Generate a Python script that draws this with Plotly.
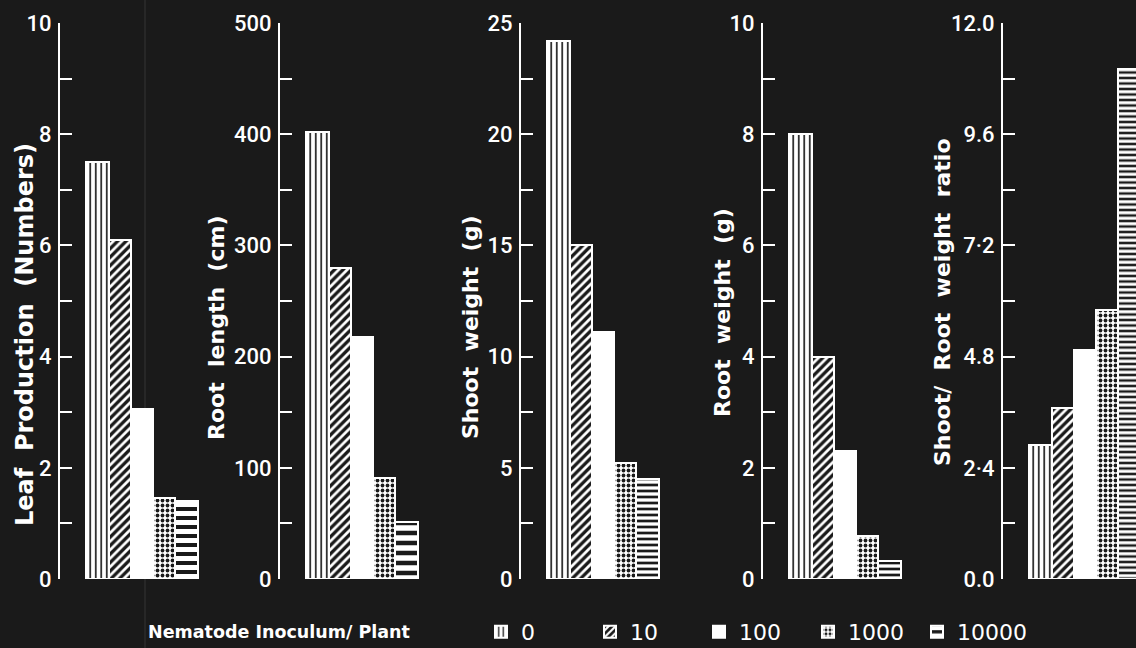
import plotly.graph_objects as go

# ---- data ----
categories = ["0", "10", "100", "1000", "10000"]
leaf_production = [7.5, 6.1, 3.05, 1.45, 1.4]
root_length = [402, 280, 218, 91, 51]
shoot_weight = [24.2, 15.0, 11.1, 5.2, 4.5]
root_weight = [8.0, 4.0, 2.3, 0.78, 0.33]
shoot_root_ratio = [2.9, 3.7, 4.95, 5.8, 11.0]

panel_titles = ["Leaf\u00a0 Production\u00a0 (Numbers)", "Root\u00a0 length\u00a0 (cm)",
                "Shoot\u00a0 weight\u00a0 (g)", "Root\u00a0 weight\u00a0 (g)",
                "Shoot/\u00a0 Root\u00a0 weight\u00a0 ratio"]
legend_heading = "Nematode Inoculum/ Plant"
panel_values = [leaf_production, root_length, shoot_weight, root_weight, shoot_root_ratio]
y_max = [10, 500, 25, 10, 12.0]
y_major = [2, 100, 5, 2, 2.4]
y_minor = [1, 50, 2.5, 1, 1.2]
ratio_ticktext = ["0.0", "2\u00b74", "4.8", "7\u00b72", "9.6", "12.0"]

# ---- styling ----
W, H = 1136, 648
BG = "#1a1a1a"
axis_px = [60, 280, 521, 763, 1003]          # x pixel of each y-axis line
panel_w = 140
x_lo = -1.68
unit = panel_w / (4.6 - x_lo)
title_px = [(25, 335), (216, 328), (470, 328), (722, 313), (942, 302)]
title_size = [24, 22, 22, 22, 22]
y_bottom_px, y_top_px = 579, 23
stripe_size = [9, 10, 6, 6, 5.5]

def pattern(ci, p):
    if ci == 0:
        return dict(shape="|", fillmode="replace", bgcolor="white", fgcolor=BG, size=5.5, solidity=0.3)
    if ci == 1:
        return dict(shape="/", fillmode="replace", bgcolor=BG, fgcolor="white", size=6, solidity=0.45)
    if ci == 2:
        return dict(shape="")
    if ci == 3:
        return dict(shape=".", fillmode="replace", bgcolor="white", fgcolor=BG, size=5, solidity=0.45)
    return dict(shape="-", fillmode="replace", bgcolor=BG, fgcolor="white", size=stripe_size[p], solidity=0.55)

fig = go.Figure()
layout_axes = {}
annotations = []
for p in range(5):
    sfx = "" if p == 0 else str(p + 1)
    for ci, cat in enumerate(categories):
        fig.add_trace(go.Bar(
            x=[ci], y=[panel_values[p][ci]], width=1,
            name=cat, legendgroup=cat, showlegend=(p == 0),
            xaxis="x" + sfx, yaxis="y" + sfx,
            marker=dict(color="white", line=dict(color="white", width=2), pattern=pattern(ci, p)),
            hovertemplate=cat + ": %{y}<extra></extra>",
        ))
    x0 = axis_px[p] / W
    x1 = min(axis_px[p] + panel_w, W) / W
    x_hi = x_lo + (min(axis_px[p] + panel_w, W) - axis_px[p]) / unit
    layout_axes["xaxis" + sfx] = dict(domain=[x0, x1], range=[x_lo, x_hi], visible=False,
                                      anchor="y" + sfx, fixedrange=True)
    yax = dict(domain=[(H - y_bottom_px) / H, (H - y_top_px) / H], range=[0, y_max[p]],
               anchor="x" + sfx, showline=True, linecolor="white", linewidth=2,
               ticks="inside", ticklen=12, tickwidth=2, tickcolor="white",
               showgrid=False, zeroline=False, automargin=False, fixedrange=True,
               tickfont=dict(family="Roboto", size=22, color="white", weight=500),
               minor=dict(dtick=y_minor[p], ticks="inside", ticklen=12, tickwidth=2,
                          tickcolor="white", showgrid=False),
               ticklabelstandoff=2)
    if p == 4:
        yax.update(tickmode="array",
                   tickvals=[round(y_major[p] * k, 1) for k in range(6)],
                   ticktext=ratio_ticktext,
                   minor=dict(tickmode="array",
                              tickvals=[round(y_minor[p] * k, 1) for k in range(11)],
                              ticks="inside", ticklen=12, tickwidth=2, tickcolor="white", showgrid=False))
    else:
        yax.update(tickmode="linear", tick0=0, dtick=y_major[p])
    layout_axes["yaxis" + sfx] = yax
    tx, ty = title_px[p]
    annotations.append(dict(text=panel_titles[p], xref="paper", yref="paper",
                            x=tx / W, y=(H - ty) / H, textangle=-90, showarrow=False,
                            xanchor="center", yanchor="middle",
                            font=dict(family="DejaVu Sans", size=title_size[p], color="white",
                                      weight="bold")))

annotations.append(dict(text=legend_heading, xref="paper", yref="paper",
                        x=146 / W, y=(H - 632) / H, xanchor="left", yanchor="middle",
                        showarrow=False,
                        font=dict(family="DejaVu Sans", size=17.5, color="white", weight="bold")))

fig.update_layout(
    width=W, height=H,
    margin=dict(l=0, r=0, t=0, b=0, autoexpand=False),
    paper_bgcolor=BG, plot_bgcolor=BG,
    barmode="overlay", bargap=0,
    showlegend=True,
    legend=dict(orientation="h", x=481 / W, xanchor="left", y=16 / H, yanchor="middle",
                bgcolor="rgba(0,0,0,0)", font=dict(family="DejaVu Sans", size=22, color="white"),
                entrywidth=64, entrywidthmode="pixels", traceorder="normal"),
    annotations=annotations,
    shapes=[dict(type="line", xref="paper", yref="paper", x0=145 / W, x1=145 / W, y0=0, y1=1,
                 line=dict(color="rgba(255,255,255,0.12)", width=1), layer="below")],
    **layout_axes,
)

fig.write_html("out.html", config={"displayModeBar": False},
               post_script="document.body.style.margin='0';document.body.style.background='#1a1a1a';")
